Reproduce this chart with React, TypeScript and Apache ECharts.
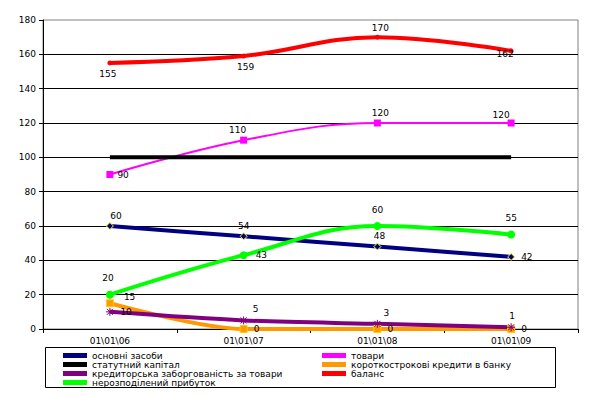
import React, { useEffect, useRef } from "react";
import * as echarts from "echarts";

const categories = ["01\\01\\06", "01\\01\\07", "01\\01\\08", "01\\01\\09"];
const fixedAssets = [60, 54, 48, 42];
const goods = [90, 110, 120, 120];
const statutoryCapital = [100, 100, 100, 100];
const shortTermLoans = [15, 0, 0, 0];
const payables = [10, 5, 3, 1];
const balance = [155, 159, 170, 162];
const retainedEarnings = [20, 43, 60, 55];

const seriesNames = [
  "основні засоби",
  "товари",
  "статутний капітал",
  "короткострокові кредити в банку",
  "кредиторська заборгованість за товари",
  "баланс",
  "нерозподілений прибуток",
];

const FONT = "DejaVu Sans";

type Lbl = [string, number, number];

function withLabels(values: number[], labels: Lbl[] | null) {
  return values.map((v, i) => {
    if (!labels) return v;
    const [pos, dx, dy] = labels[i];
    return {
      value: v,
      label: { show: true, position: pos, offset: [dx, dy] },
    };
  });
}

const asterisk = "path://M0,4L8,4M4,0L4,8M1,1L7,7M7,1L1,7";

export default function App() {
  const ref = useRef<HTMLDivElement>(null);
  useEffect(() => {
    if (!ref.current) return;
    const chart = echarts.init(ref.current, null, { renderer: "svg" });
    const labelBase = {
      color: "#000",
      fontFamily: FONT,
      fontSize: 9,
    };
    const mk = (
      name: string,
      values: number[],
      color: string,
      width: number,
      symbol: string,
      symbolSize: number,
      labels: Lbl[] | null,
      extraItem: any = {},
      smooth: number = 0.4,
      showSymbol: boolean = true
    ) => ({
      name,
      type: "line",
      data: withLabels(values, labels),
      smooth,
      symbol,
      symbolSize,
      showSymbol,
      lineStyle: { color, width },
      itemStyle: { color, ...extraItem },
      label: { ...labelBase, distance: 2 },
      emphasis: { disabled: true },
      z: 3,
    });
    const legendCommon = {
      top: 351,
      orient: "vertical",
      icon: "rect",
      itemWidth: 24,
      itemHeight: 5,
      itemGap: 0,
      padding: 0,
      itemStyle: { borderWidth: 0 },
      textStyle: { color: "#000", fontFamily: FONT, fontSize: 9, lineHeight: 8 },
    };
    chart.setOption({
      animation: false,
      textStyle: { fontFamily: FONT },
      grid: {
        left: 43,
        right: 36,
        top: 20,
        bottom: 67,
        show: true,
        borderColor: "#808080",
        borderWidth: 1,
        containLabel: false,
      },
      xAxis: {
        type: "category",
        data: categories,
        boundaryGap: true,
        axisLine: { lineStyle: { color: "#000", width: 1 } },
        axisTick: { show: true, length: 4, lineStyle: { color: "#000" } },
        axisLabel: { color: "#000", fontFamily: FONT, fontSize: 9, margin: 7 },
      },
      yAxis: {
        type: "value",
        min: 0,
        max: 180,
        interval: 20,
        axisLine: { show: true, lineStyle: { color: "#000", width: 1 } },
        axisTick: { show: true, length: 4, lineStyle: { color: "#000" } },
        axisLabel: { color: "#000", fontFamily: FONT, fontSize: 9, margin: 7 },
        splitLine: { show: true, showMaxLine: false, lineStyle: { color: "#000", width: 1 } },
      },
      legend: [
        {
          ...legendCommon,
          left: 63,
          data: [seriesNames[0], seriesNames[2], seriesNames[4], seriesNames[6]],
        },
        {
          ...legendCommon,
          left: 322,
          data: [seriesNames[1], seriesNames[3], seriesNames[5]],
        },
      ],
      graphic: [
        {
          type: "rect",
          shape: { x: 45.5, y: 347.5, width: 510, height: 40 },
          style: { fill: "none", stroke: "#000", lineWidth: 1 },
          silent: true,
        },
      ],
      series: [
        mk(seriesNames[0], fixedAssets, "#000080", 4, "diamond", 7,
          [["top", 6, 0], ["top", 0, 0], ["top", 2, 0], ["right", 4, 0]],
          { borderColor: "#FFFF00", borderWidth: 1 }, 0.2),
        mk(seriesNames[1], goods, "#FF00FF", 2, "rect", 7,
          [["right", 2, 0], ["top", -6, 0], ["top", 3, 0], ["top", -10, 2]], {}, 0.4),
        mk(seriesNames[2], statutoryCapital, "#000000", 4, "none", 0, null, {}, 0, false),
        mk(seriesNames[3], shortTermLoans, "#FF9900", 4, "rect", 7,
          [["right", 8, -6], ["right", 4, 0], ["right", 4, 0], ["right", 4, 0]],
          { borderColor: "#FFCC00", borderWidth: 1 }, 0.3),
        mk(seriesNames[4], payables, "#800080", 4, asterisk, 8,
          [["right", 4, 0], ["top", 12, 0], ["top", 9, 0], ["top", 1, 0]],
          { borderColor: "#800080", borderWidth: 1 }, 0.3),
        mk(seriesNames[5], balance, "#FF0000", 4, "circle", 5,
          [["bottom", -2, 2], ["bottom", 2, 2], ["top", 3, 0], ["bottom", -6, -6]], {}, 0.4),
        mk(seriesNames[6], retainedEarnings, "#00FF00", 4, "circle", 8,
          [["top", -2, -6], ["right", 6, 0], ["top", 0, -6], ["top", 0, -6]], {}, 0.4),
      ],
    });
    return () => chart.dispose();
  }, []);
  return <div ref={ref} style={{ width: 614, height: 396, position: "absolute", left: 0, top: 0, background: "#fff" }} />;
}
